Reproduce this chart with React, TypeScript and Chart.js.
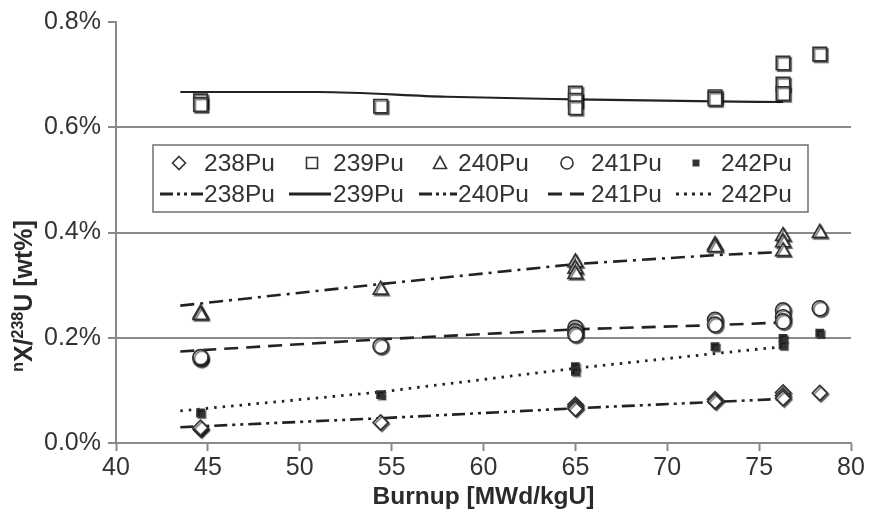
import React, { useEffect, useRef } from 'react';
import { Chart, registerables } from 'chart.js';

Chart.register(...registerables);

// ---- data (values in wt%) ----
const nuclides = ['238Pu', '239Pu', '240Pu', '241Pu', '242Pu'];
const burnup = [44.6, 44.6, 54.4, 65, 65, 65, 72.6, 72.6, 76.3, 76.3, 76.3, 78.3];
const pu238 = [0.026, 0.029, 0.039, 0.073, 0.069, 0.065, 0.083, 0.079, 0.096, 0.090, 0.085, 0.095];
const pu239 = [0.650, 0.643, 0.640, 0.665, 0.651, 0.637, 0.658, 0.654, 0.722, 0.682, 0.664, 0.739];
const pu240 = [0.246, 0.243, 0.291, 0.343, 0.331, 0.321, 0.376, 0.372, 0.393, 0.381, 0.364, 0.399];
const pu241 = [0.160, 0.163, 0.184, 0.219, 0.212, 0.206, 0.234, 0.225, 0.252, 0.239, 0.231, 0.256];
const burnup242 = [44.6, 54.4, 65, 65, 72.6, 76.3, 76.3, 78.3];
const pu242 = [0.057, 0.092, 0.145, 0.136, 0.183, 0.199, 0.186, 0.209];

const fitBurnup = [43.5, 54.4, 65, 72.6, 76.3];
const fit238 = [0.030, 0.047, 0.066, 0.078, 0.084];
const fit240 = [0.261, 0.302, 0.340, 0.357, 0.363];
const fit241 = [0.174, 0.197, 0.216, 0.224, 0.229];
const fit242 = [0.061, 0.097, 0.142, 0.170, 0.183];
const fitBurnup239 = [43.5, 51, 58, 65, 72.6, 76.3];
const fit239 = [0.667, 0.667, 0.658, 0.653, 0.649, 0.648];

const yMin = 0;
const yMax = 0.8;
const yStep = 0.2;
const xMin = 40;
const xMax = 80;
const xStep = 5;

const xTitle = 'Burnup [MWd/kgU]';

const INK = '#333333';
const GRID = '#8a8a8a';
const FONT = '"Liberation Sans", Arial, sans-serif';

const pts = (xs: number[], ys: number[]) => xs.map((x, i) => ({ x, y: ys[i] }));

type MarkerKind = 'diamond' | 'square' | 'triangle' | 'circle' | 'filled';
const markerKinds: MarkerKind[] = ['diamond', 'square', 'triangle', 'circle', 'filled'];
const pointStyles = ['rectRot', 'rect', 'triangle', 'circle', 'rect'];
const pointRadii = [7.5, 9.5, 8.5, 7.5, 5];
const lineDashes: number[][] = [
  [13, 5, 3, 5, 3, 5],
  [],
  [14, 6, 3, 6],
  [14, 8],
  [2.5, 6],
];

function drawMarker(ctx: CanvasRenderingContext2D, kind: MarkerKind, x: number, y: number) {
  ctx.save();
  ctx.lineWidth = 1.6;
  ctx.strokeStyle = INK;
  ctx.fillStyle = '#ffffff';
  ctx.beginPath();
  if (kind === 'diamond') {
    const r = 6.5;
    ctx.moveTo(x, y - r); ctx.lineTo(x + r, y); ctx.lineTo(x, y + r); ctx.lineTo(x - r, y); ctx.closePath();
  } else if (kind === 'square') {
    ctx.rect(x - 5.5, y - 5.5, 11, 11);
  } else if (kind === 'triangle') {
    ctx.moveTo(x, y - 6.5); ctx.lineTo(x + 6.5, y + 5.5); ctx.lineTo(x - 6.5, y + 5.5); ctx.closePath();
  } else if (kind === 'circle') {
    ctx.arc(x, y, 6, 0, Math.PI * 2);
  } else {
    ctx.fillStyle = INK;
    ctx.rect(x - 3.5, y - 3.5, 7, 7);
  }
  ctx.fill();
  if (kind !== 'filled') ctx.stroke();
  ctx.restore();
}

const legendPlugin = {
  id: 'boxLegend',
  afterDraw(chart: any) {
    const { ctx, chartArea } = chart;
    const L = chartArea.left;
    const T = chartArea.top;
    ctx.save();
    // box
    const bx = L + 37, by = T + 123, bw = 655, bh = 67;
    ctx.fillStyle = '#ffffff';
    ctx.fillRect(bx, by, bw, bh);
    ctx.strokeStyle = '#6f6f6f';
    ctx.lineWidth = 1.5;
    ctx.strokeRect(bx, by, bw, bh);

    const markerX = [179, 312, 440, 567, 696];
    const textX = [204, 333, 458, 591, 721];
    const sampleX = [[160, 203], [289, 331], [419, 457], [548, 589], [676, 712]];
    const row1 = T + 141;
    const row2 = T + 172;
    ctx.font = `24.5px ${FONT}`;
    ctx.fillStyle = INK;
    ctx.textBaseline = 'middle';
    ctx.textAlign = 'left';
    for (let i = 0; i < nuclides.length; i++) {
      drawMarker(ctx, markerKinds[i], markerX[i], row1);
      ctx.fillStyle = INK;
      ctx.fillText(nuclides[i], textX[i], row1 + 1);
      // line sample
      ctx.save();
      ctx.strokeStyle = '#222222';
      ctx.lineWidth = 3;
      ctx.setLineDash(i === 0 || i === 2 ? [13, 4, 3, 4, 3, 4] : lineDashes[i].length ? (i === 4 ? [3, 5] : lineDashes[i]) : []);
      ctx.beginPath();
      ctx.moveTo(sampleX[i][0], row2);
      ctx.lineTo(sampleX[i][1], row2);
      ctx.stroke();
      ctx.restore();
      ctx.fillText(nuclides[i], textX[i], row2 + 1);
    }

    // axis titles
    ctx.fillStyle = '#2a2a2a';
    ctx.textAlign = 'center';
    ctx.textBaseline = 'middle';
    ctx.font = `bold 24.5px ${FONT}`;
    ctx.fillText(xTitle, (chartArea.left + chartArea.right) / 2, 497);

    // y title with superscripts, rotated
    ctx.translate(23, 296);
    ctx.rotate(-Math.PI / 2);
    const big = `bold 25px ${FONT}`;
    const small = `bold 16px ${FONT}`;
    const parts: [string, string, number][] = [
      ['n', small, -9],
      ['X/', big, 0],
      ['238', small, -9],
      ['U [wt%]', big, 0],
    ];
    let total = 0;
    for (const [t, f] of parts) { ctx.font = f; total += ctx.measureText(t).width; }
    let cx = -total / 2;
    ctx.textAlign = 'left';
    ctx.textBaseline = 'alphabetic';
    for (const [t, f, dy] of parts) {
      ctx.font = f;
      ctx.fillText(t, cx, 9 + dy);
      cx += ctx.measureText(t).width;
    }
    ctx.restore();
  },
};

const shadowPlugin = {
  id: 'markerShadow',
  beforeDatasetDraw(chart: any, args: any) {
    const ds = chart.data.datasets[args.index];
    if (ds.showLine) return;
    const ctx = chart.ctx;
    ctx.save();
    ctx.shadowColor = 'rgba(0,0,0,0.55)';
    ctx.shadowOffsetX = 1.5;
    ctx.shadowOffsetY = 1.5;
    ctx.shadowBlur = 1;
  },
  afterDatasetDraw(chart: any, args: any) {
    const ds = chart.data.datasets[args.index];
    if (ds.showLine) return;
    chart.ctx.restore();
  },
};

export default function App() {
  const ref = useRef<HTMLCanvasElement>(null);
  useEffect(() => {
    document.body.style.margin = '0';
    const canvas = ref.current!;
    const seriesY = [pu238, pu239, pu240, pu241, pu242];
    const seriesX = [burnup, burnup, burnup, burnup, burnup242];
    const fitsY = [fit238, fit239, fit240, fit241, fit242];
    const fitsX = [fitBurnup, fitBurnup239, fitBurnup, fitBurnup, fitBurnup];

    const datasets: any[] = [];
    for (let i = 0; i < nuclides.length; i++) {
      datasets.push({
        label: nuclides[i] + ' fit',
        data: pts(fitsX[i], fitsY[i]),
        showLine: true,
        borderColor: '#222222',
        borderWidth: i === 1 ? 2.2 : i === 4 ? 2.8 : 2.6,
        borderDash: lineDashes[i],
        borderCapStyle: 'butt',
        pointRadius: 0,
        fill: false,
        cubicInterpolationMode: i === 1 ? 'monotone' : 'default',
        tension: 0,
        order: 2,
      });
    }
    for (let i = 0; i < nuclides.length; i++) {
      datasets.push({
        label: nuclides[i],
        data: pts(seriesX[i], seriesY[i]),
        showLine: false,
        pointStyle: pointStyles[i],
        pointRadius: pointRadii[i],
        pointBorderWidth: 1.7,
        pointBorderColor: INK,
        pointBackgroundColor: i === 4 ? INK : '#ffffff',
        order: 1,
      });
    }

    const chart = new Chart(canvas, {
      type: 'scatter',
      data: { datasets },
      options: {
        animation: false,
        responsive: false,
        devicePixelRatio: 1,
        layout: { padding: { left: 0, right: 20, top: 17, bottom: 0 } },
        plugins: { legend: { display: false }, tooltip: { enabled: false } },
        scales: {
          x: {
            type: 'linear',
            min: xMin,
            max: xMax,
            afterFit: (s: any) => { s.height = 73; },
            ticks: {
              stepSize: xStep,
              color: INK,
              font: { family: FONT, size: 25 },
              padding: 2,
            },
            grid: {
              drawOnChartArea: false,
              drawTicks: true,
              tickLength: 8,
              tickColor: GRID,
              tickWidth: 2,
              color: GRID,
            },
            border: { display: true, color: GRID, width: 2 },
          },
          y: {
            type: 'linear',
            min: yMin,
            max: yMax,
            afterFit: (s: any) => { s.width = 116; },
            ticks: {
              stepSize: yStep,
              color: INK,
              font: { family: FONT, size: 25 },
              padding: 7,
              callback: (v: any) => Number(v).toFixed(1) + '%',
            },
            grid: {
              drawOnChartArea: true,
              tickLength: 8,
              tickColor: GRID,
              tickWidth: 2,
              lineWidth: 2,
              color: (c: any) => {
                const v = c.tick ? c.tick.value : 0;
                return Math.abs(v - yMax) < 1e-6 || Math.abs(v) < 1e-6 ? 'rgba(0,0,0,0)' : GRID;
              },
            },
            border: { display: true, color: GRID, width: 2 },
          },
        },
      },
      plugins: [shadowPlugin, legendPlugin],
    } as any);
    return () => chart.destroy();
  }, []);
  return (
    <div style={{ width: 871, height: 516, position: 'relative' }}>
      <canvas ref={ref} width={871} height={516} style={{ display: 'block', width: 871, height: 516 }} />
    </div>
  );
}
